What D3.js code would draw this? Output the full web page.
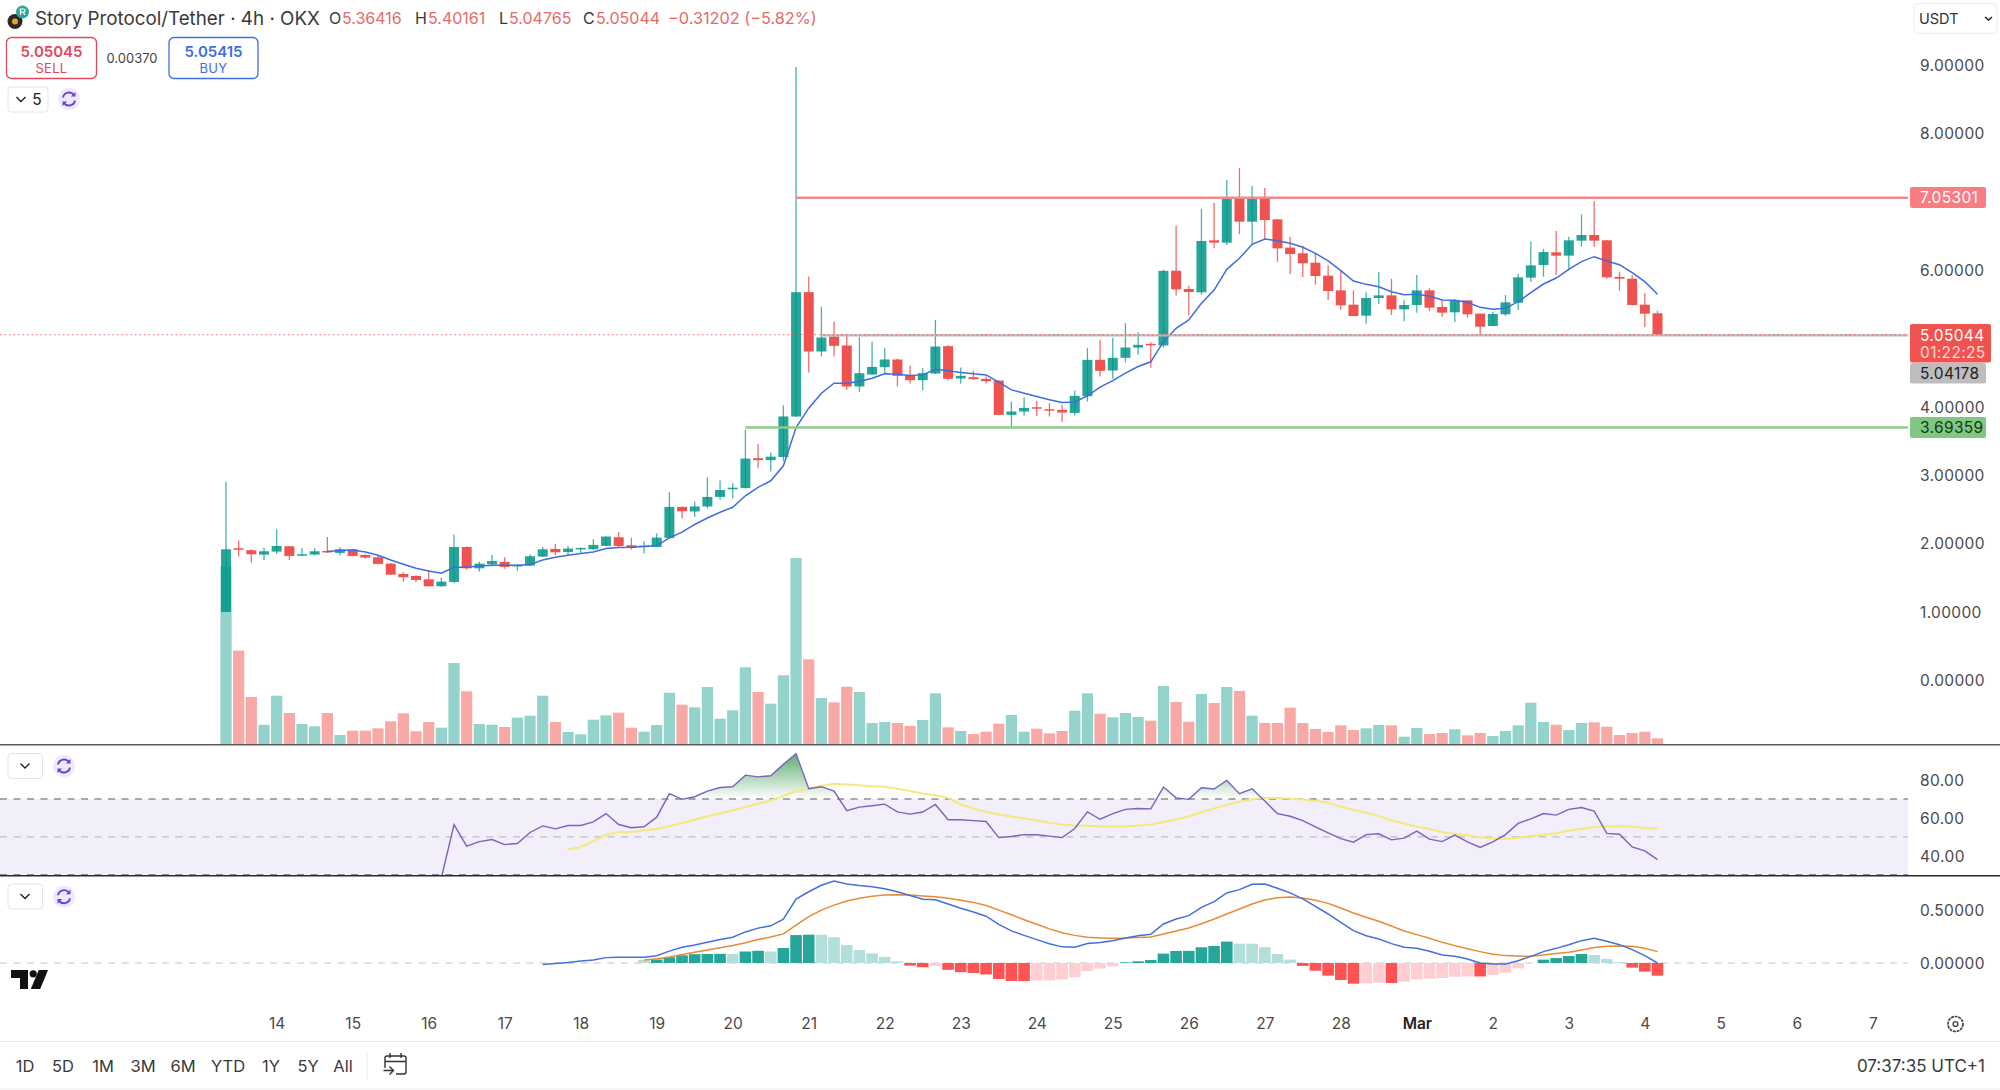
<!DOCTYPE html>
<html><head><meta charset="utf-8">
<script src="https://cdn.jsdelivr.net/npm/d3@7"></script>
<style>
html,body{margin:0;padding:0;background:#fff;overflow:hidden}
text{font-family:Inter,"Noto Sans",sans-serif}
.axis path,.axis line{display:none}
</style></head><body>
<div id="chart"></div>
<script>
const opens=[0.995,1.927,1.898,1.834,1.878,1.956,1.82,1.834,1.888,1.859,
1.912,1.829,1.795,1.702,1.551,1.522,1.473,1.371,1.434,1.946,
1.634,1.693,1.727,1.673,1.673,1.805,1.917,1.873,1.917,1.912,
1.961,2.088,1.971,1.951,1.946,2.078,2.532,2.465,2.538,2.678,
2.79,2.807,3.244,3.216,3.261,3.854,5.673,4.805,5.024,4.893,
4.293,4.468,4.576,4.688,4.454,4.385,4.483,4.883,4.41,4.429,
4.405,4.38,3.878,3.927,3.99,3.961,3.951,3.907,4.151,4.683,
4.527,4.712,4.863,4.917,4.893,5.987,5.719,5.67,6.431,6.397,
7.055,6.704,7.065,6.738,6.324,6.241,6.104,5.914,5.699,5.49,
5.329,5.587,5.626,5.422,5.485,5.699,5.456,5.378,5.553,5.358,
5.178,5.349,5.519,5.885,6.07,6.255,6.207,6.426,6.509,6.431,
5.895,5.87,5.49,5.36416];
const highs=[2.898,2.039,1.912,1.937,2.205,1.961,1.932,1.927,2.093,1.941,
1.917,1.839,1.829,1.712,1.576,1.532,1.61,1.498,2.127,1.951,
1.732,1.829,1.795,1.688,1.839,1.946,1.99,1.961,1.937,2.059,
2.102,2.166,2.083,2.029,2.146,2.746,2.537,2.611,2.964,2.919,
2.88,3.659,3.452,3.328,4.018,8.966,5.902,5.459,5.244,5.039,
5.015,4.946,4.854,4.702,4.595,4.561,5.268,4.898,4.571,4.522,
4.439,4.385,4.073,4.137,4.083,4.049,4.024,4.234,4.854,4.976,
5.005,5.22,5.088,4.941,6.0,6.646,5.768,6.889,6.982,7.314,
7.489,7.226,7.197,6.743,6.485,6.353,6.231,6.065,5.987,5.699,
5.67,5.968,5.87,5.553,5.924,5.729,5.558,5.568,5.558,5.363,
5.388,5.631,5.939,6.411,6.304,6.567,6.485,6.811,7.007,6.436,
5.973,5.924,5.656,5.40161];
const lows=[0.995,1.805,1.717,1.756,1.844,1.756,1.81,1.824,1.859,1.824,
1.805,1.776,1.693,1.537,1.439,1.434,1.366,1.366,1.415,1.61,
1.585,1.659,1.629,1.6,1.668,1.8,1.829,1.815,1.844,1.902,
1.956,1.937,1.907,1.854,1.941,2.073,2.361,2.387,2.51,2.638,
2.656,2.801,3.097,3.048,3.199,3.854,4.498,4.732,4.732,4.244,
4.215,4.463,4.488,4.293,4.337,4.239,4.478,4.38,4.332,4.39,
4.341,3.873,3.698,3.868,3.863,3.854,3.776,3.868,4.073,4.439,
4.405,4.644,4.756,4.566,4.863,5.622,5.339,5.636,6.314,6.363,
6.523,6.372,6.446,6.119,5.934,5.89,5.783,5.558,5.412,5.319,
5.202,5.5,5.339,5.246,5.373,5.397,5.314,5.236,5.3,5.046,
5.173,5.324,5.412,5.822,5.9,5.924,6.007,6.338,6.333,5.87,
5.695,5.48,5.163,5.04765];
const closes=[1.912,1.912,1.839,1.883,1.961,1.815,1.839,1.883,1.868,1.912,
1.815,1.79,1.698,1.541,1.502,1.463,1.371,1.439,1.946,1.634,
1.702,1.741,1.654,1.683,1.81,1.912,1.868,1.922,1.932,1.976,
2.098,1.961,1.932,1.966,2.083,2.532,2.468,2.538,2.678,2.779,
2.813,3.239,3.216,3.267,3.855,5.673,4.805,5.01,4.888,4.293,
4.488,4.58,4.688,4.449,4.385,4.488,4.878,4.405,4.449,4.4,
4.371,3.878,3.927,3.98,3.971,3.941,3.912,4.156,4.683,4.522,
4.712,4.863,4.902,4.898,5.985,5.714,5.675,6.421,6.397,7.055,
6.704,7.065,6.728,6.314,6.231,6.095,5.909,5.69,5.48,5.324,
5.587,5.626,5.422,5.485,5.699,5.446,5.373,5.553,5.349,5.168,
5.354,5.524,5.89,6.065,6.26,6.207,6.431,6.509,6.426,5.89,
5.87,5.485,5.358,5.05044];
const volumes=[177.7,93.3,47,19.3,48.3,31,20,17.7,31,9,
13.3,13.3,15.7,22.7,30.7,12.7,22,16.3,81,52.7,
20,19.3,17,26.3,28.3,48.3,22,12,9.7,24.3,
28.7,31.3,16.3,12.3,19,51.3,39.3,36.7,57,25.3,
33.7,76.7,52,40.3,68.7,186,84.7,46,41.7,57.3,
52,21,22,21,18,24,50.7,16.7,13,10,
12.3,20.3,29,12.3,15.3,10.7,13,33.3,50.7,30.3,
26.7,31,27,23.3,58,42,22.3,50,41,57,
53,28.3,21,21,36.3,21,15,12,18.7,14,
15.7,19,18.7,7.3,16,10,11,14.7,8.7,11,
8,13,18.7,41.3,22,19.3,14,21,21.7,17.3,
9,11,12.3,5.7];
const emaStart=8;
const emaValues=[1.878,1.893,1.902,1.873,1.824,1.756,1.693,1.634,1.595,1.561,
1.649,1.649,1.668,1.678,1.678,1.678,1.688,1.756,1.795,1.824,
1.849,1.873,1.922,1.937,1.941,1.951,1.966,2.079,2.163,2.275,
2.37,2.454,2.527,2.695,2.818,2.914,3.133,3.693,3.976,4.195,
4.341,4.341,4.366,4.415,4.478,4.473,4.454,4.463,4.546,4.522,
4.498,4.478,4.463,4.356,4.244,4.195,4.146,4.098,4.059,4.068,
4.156,4.283,4.38,4.488,4.585,4.654,4.949,5.144,5.266,5.51,
5.704,6.007,6.168,6.372,6.451,6.426,6.387,6.329,6.241,6.129,
5.987,5.836,5.787,5.753,5.68,5.636,5.641,5.617,5.558,5.553,
5.524,5.451,5.422,5.436,5.534,5.665,5.792,5.88,6.007,6.119,
6.192,6.129,6.075,5.958,5.826,5.641];
const rsiStart=17;
const rsiValues=[28.3,56.5,45.1,47.5,48.6,45.9,46.5,52.3,55.8,54.2,56,56,57.9,62.3,56.5,54.8,55.3,60.4,72.8,69.8,71.2,74.2,76.1,76.5,82.6,81.7,82.3,88.3,93.9,75.4,76.5,74.2,63.8,65.7,66.4,67.3,63.2,62,63.1,67.1,59,59,58.6,58.1,49.6,50.2,51.2,51.1,50.4,49.6,54.4,63.2,59.3,
62.3,64.5,65,64.8,76.3,70.6,69.8,75.9,75.3,79.8,72.8,75.4,68.9,62.3,60.9,58.6,55.3,52.1,49.1,47.2,51.2,51.6,48.4,49.3,53,48.8,47.5,50.9,47.4,44.4,47.4,51.2,57.1,59.5,62.3,61.5,64.5,65.5,63.6,51.8,51.4,44.7,42.6,38];
const rsiMaStart=27;
const rsiMaValues=[43.5,44.5,47.7,51.1,52.5,52.6,53.4,54.1,55.6,57.2,59,60.9,62.3,63.9,65.7,67.5,69.2,71.5,74.2,75.4,77,78,77.7,77.3,76.8,76.5,75.4,74.2,72.9,72,70.6,67.1,65,63.2,61.8,60.8,59.7,58.6,57.4,56.5,56,55.8,55.6,55.5,55.6,56,56.5,57.8,59.2,60.9,63.1,65,66.9,68.5,69.9,70.5,70.5,70.3,69.8,69,68.2,65.9,64.3,62.7,61.1,58.8,57.1,55.5,54.1,52.5,51.6,50.9,49.8,49.1,48.9,49.5,50.4,51.1,51.9,53.2,54.2,55.1,55.5,55.6,55.3,54.6,54.4];
const macdStart=25;
const macdValues=[-0.015,-0.004,0.004,0.018,0.029,0.051,0.055,0.055,0.055,0.069,0.113,0.149,0.171,0.196,0.222,0.244,0.295,0.331,0.353,0.415,0.607,0.676,0.738,0.778,0.749,0.735,0.724,0.705,0.676,0.64,0.604,0.6,0.56,0.52,0.484,0.444,0.367,0.305,0.262,0.222,0.182,0.153,0.149,0.185,0.195,
0.212,0.237,0.259,0.272,0.37,0.418,0.449,0.528,0.582,0.665,0.696,0.747,0.75,0.709,0.665,0.608,0.538,0.465,0.386,0.307,0.259,0.228,0.184,0.149,0.139,0.111,0.076,0.063,0.038,0,-0.009,-0.009,0.022,0.063,0.108,0.139,0.174,0.212,0.234,0.206,0.174,0.127,0.07,0];
const signalStart=33;
const signalValues=[0.029,0.04,0.058,0.08,0.102,0.124,0.145,0.167,0.193,0.222,0.247,0.276,0.36,0.44,0.502,0.549,0.589,0.615,0.633,0.644,0.647,0.644,0.636,0.629,0.615,0.596,0.575,0.545,0.502,0.458,0.411,0.367,0.324,0.287,0.262,0.244,0.238,
0.234,0.237,0.243,0.247,0.275,0.304,0.332,0.373,0.418,0.465,0.513,0.56,0.598,0.62,0.627,0.617,0.595,0.566,0.522,0.475,0.434,0.396,0.351,0.304,0.269,0.234,0.196,0.165,0.136,0.108,0.082,0.07,0.066,0.063,0.076,0.089,0.101,0.123,0.146,0.158,0.161,0.158,0.139,0.108];
const histStart=33;
const histValues=[0.029,0.033,0.055,0.073,0.084,0.085,0.087,0.085,0.109,0.116,0.109,0.142,0.265,0.269,0.268,0.244,0.171,0.124,0.091,0.058,0.015,-0.025,-0.04,-0.029,-0.065,-0.087,-0.095,-0.109,-0.153,-0.171,-0.172,-0.167,-0.164,-0.156,-0.135,-0.076,-0.052,
-0.032,0.006,0.016,0.028,0.089,0.114,0.115,0.149,0.161,0.203,0.184,0.183,0.149,0.085,0.032,-0.028,-0.073,-0.12,-0.161,-0.196,-0.193,-0.187,-0.19,-0.177,-0.155,-0.149,-0.142,-0.13,-0.127,-0.128,-0.114,-0.092,-0.051,0,0.032,0.047,0.066,0.085,0.076,0.038,0.009,-0.044,-0.082,-0.12];
const priceTicks=[9,8,6,4,3,2,1,0];
const rsiTicks=[80,60,40];
const macdTicks=[0.5,0];
const rsiLevels=[70,50,30];
const dateTickLabels=["14","15","16","17","18","19","20","21","22","23","24","25","26","27","28","Mar","2","3","4","5","6","7"];
const dateTickFirstIndex=4, barsPerDay=6;
const rangeButtons=["1D","5D","1M","3M","6M","YTD","1Y","5Y","All"];
const resistance=7.05301, resistanceStart=45;
const support=3.69359, supportStart=41;
const grayLevel=5.04178, grayStart=47;
const lastPrice=5.05044;
const labelRedLevel="7.05301", labelGray="5.04178", labelGreen="3.69359", labelLast="5.05044", labelTimer="01:22:25";

const W=2000,H=1090,plotRight=1908;
const x=d3.scaleLinear().domain([0,113]).range([226,1657.5]);
const y=d3.scaleLinear().domain([0,9]).range([680,64.7]);
const yVol=d3.scaleLinear().domain([0,200]).range([744,544]);
const yRsi=d3.scaleLinear().domain([30,70]).range([874.7,799]);
const yMacd=d3.scaleLinear().domain([0,0.5]).range([963,910.3]);
const G="#26a69a",R="#ef5350",INK="#4a4a4a";
const svg=d3.select("#chart").append("svg").attr("width",W).attr("height",H).style("display","block");
const defs=svg.append("defs");
defs.append("clipPath").attr("id","rsiClip").append("rect").attr("x",0).attr("y",746).attr("width",plotRight).attr("height",129);
defs.append("clipPath").attr("id","obClip").append("rect").attr("x",0).attr("y",746).attr("width",plotRight).attr("height",yRsi(70)-746);
const gr=defs.append("linearGradient").attr("id","obGrad").attr("gradientUnits","userSpaceOnUse").attr("x1",0).attr("x2",0).attr("y1",yRsi(94)).attr("y2",yRsi(70));
gr.append("stop").attr("offset",0).attr("stop-color","#3f9d55").attr("stop-opacity",0.85);
gr.append("stop").attr("offset",1).attr("stop-color","#3f9d55").attr("stop-opacity",0);

const idx=d3.range(opens.length);
// volume
svg.append("g").selectAll("rect").data(volumes).join("rect")
 .attr("x",(d,i)=>x(i)-5.6).attr("width",11.2)
 .attr("y",d=>yVol(d)).attr("height",d=>744-yVol(d))
 .attr("fill",(d,i)=>closes[i]>=opens[i]?"#93d3cc":"#f8a9a6");
// candles (green drawn translucent so the volume behind reads faintly darker)
const main=svg.append("g");
main.selectAll("line.w").data(idx).join("line").attr("class","w")
 .attr("x1",i=>x(i)).attr("x2",i=>x(i)).attr("y1",i=>y(highs[i])).attr("y2",i=>y(lows[i]))
 .attr("stroke",i=>closes[i]>=opens[i]?G:R).attr("stroke-width",1.3).attr("stroke-opacity",0.85);
main.selectAll("rect.b").data(idx).join("rect").attr("class","b")
 .attr("x",i=>x(i)-5).attr("width",10)
 .attr("y",i=>y(Math.max(opens[i],closes[i])))
 .attr("height",i=>Math.max(1.5,Math.abs(y(opens[i])-y(closes[i]))))
 .attr("fill",i=>closes[i]>=opens[i]?"#009688":R)
 .attr("fill-opacity",i=>closes[i]>=opens[i]?0.85:1);
// EMA
const seriesLine=(scale,start)=>d3.line().x((d,i)=>x(i+start)).y(d=>scale(d));
svg.append("path").attr("d",seriesLine(y,emaStart)(emaValues)).attr("fill","none").attr("stroke","#3f6cde").attr("stroke-width",1.5);
// horizontal levels
const lvl=(p,s,c,w)=>svg.append("line").attr("x1",x(s)).attr("x2",plotRight).attr("y1",y(p)).attr("y2",y(p)).attr("stroke",c).attr("stroke-width",w);
lvl(resistance,resistanceStart,"#f28a8d",2.4);
lvl(support,supportStart,"#8ccb8e",2.4);
lvl(grayLevel,grayStart,"#bdb7b7",2.2);
svg.append("line").attr("x1",0).attr("x2",plotRight).attr("y1",y(lastPrice)).attr("y2",y(lastPrice)).attr("stroke","#ef5350").attr("stroke-width",1).attr("stroke-dasharray","1.5 3").attr("stroke-opacity",.9);
// dividers
svg.append("line").attr("x1",0).attr("x2",W).attr("y1",744.8).attr("y2",744.8).attr("stroke","#5c5c5c").attr("stroke-width",1.5);
// RSI pane
svg.append("rect").attr("x",0).attr("width",plotRight).attr("y",yRsi(70)).attr("height",yRsi(30)-yRsi(70)).attr("fill","#f2eefa");
svg.append("g").selectAll("line").data(rsiLevels).join("line")
 .attr("x1",0).attr("x2",plotRight).attr("y1",d=>yRsi(d)).attr("y2",d=>yRsi(d))
 .attr("stroke",d=>d===50?"#c0bdc4":"#8f8d93").attr("stroke-width",1.3).attr("stroke-dasharray","7 6.5");
svg.append("path").attr("clip-path","url(#obClip)")
 .attr("d",d3.area().x((d,i)=>x(i+rsiStart)).y0(yRsi(70)).y1(d=>yRsi(d))(rsiValues))
 .attr("fill","url(#obGrad)");
const rsiG=svg.append("g").attr("clip-path","url(#rsiClip)");
rsiG.append("path").attr("d",seriesLine(yRsi,rsiMaStart)(rsiMaValues)).attr("fill","none").attr("stroke","#f6e87a").attr("stroke-width",2);
rsiG.append("path").attr("d",seriesLine(yRsi,rsiStart)(rsiValues)).attr("fill","none").attr("stroke","#7b62ba").attr("stroke-width",1.4);
svg.append("line").attr("x1",0).attr("x2",W).attr("y1",875.7).attr("y2",875.7).attr("stroke","#2a2a2a").attr("stroke-width",1.5);
// MACD pane
svg.append("line").attr("x1",0).attr("x2",plotRight).attr("y1",yMacd(0)).attr("y2",yMacd(0)).attr("stroke","#c4c4c4").attr("stroke-width",1.2).attr("stroke-dasharray","7 6.5");
svg.append("g").selectAll("rect").data(histValues).join("rect")
 .attr("x",(d,i)=>x(i+histStart)-5.8).attr("width",11.6)
 .attr("y",d=>Math.min(yMacd(d),yMacd(0))).attr("height",d=>Math.abs(yMacd(d)-yMacd(0)))
 .attr("fill",(d,i)=>{const p=histValues[i-1];if(p===undefined)return "#b2dfdb";
   if(d>=0)return d>=p?G:"#b2dfdb";return d<p?"#ff5252":"#ffcdd2";});
svg.append("path").attr("d",seriesLine(yMacd,signalStart)(signalValues)).attr("fill","none").attr("stroke","#e98a33").attr("stroke-width",1.5);
svg.append("path").attr("d",seriesLine(yMacd,macdStart)(macdValues)).attr("fill","none").attr("stroke","#4470dc").attr("stroke-width",1.5);

// axes
const fmtAxis=(g,c)=>g.attr("class","axis").call(s=>s.selectAll("text").attr("font-size",15.5).attr("fill",c).attr("letter-spacing",.35));
const ax=d3.axisRight(y).tickValues(priceTicks).tickSize(0).tickPadding(0).tickFormat(d3.format(".5f"));
svg.append("g").attr("transform","translate(1920,0.5)").call(ax).call(fmtAxis,INK);
svg.append("g").attr("transform","translate(1920,0.5)").call(d3.axisRight(yRsi).tickValues(rsiTicks).tickSize(0).tickPadding(0).tickFormat(d3.format(".2f"))).call(fmtAxis,INK);
svg.append("g").attr("transform","translate(1920,0.5)").call(d3.axisRight(yMacd).tickValues(macdTicks).tickSize(0).tickPadding(0).tickFormat(d3.format(".5f"))).call(fmtAxis,INK);
const xt=d3.range(dateTickLabels.length).map(k=>dateTickFirstIndex+k*barsPerDay);
svg.append("g").attr("transform","translate(0,1024)").call(d3.axisBottom(x).tickValues(xt).tickSize(0).tickPadding(0).tickFormat((d,k)=>dateTickLabels[k]))
 .attr("class","axis").call(s=>s.selectAll("text").attr("dy","0.35em").attr("y",0).attr("font-size",15.5).attr("fill",d=>d===dateTickFirstIndex+15*barsPerDay?"#222":INK).attr("font-weight",d=>d===dateTickFirstIndex+15*barsPerDay?600:400));

// price labels
const tag=(y0,h,w,fill,lines,col)=>{svg.append("rect").attr("x",1910).attr("y",y0).attr("width",w).attr("height",h).attr("rx",2).attr("fill",fill);
 lines.forEach((l,k)=>svg.append("text").attr("x",1920).attr("y",y0+(k+.5)*(h/lines.length)+(lines.length>1&&k===0?1.5:0)).attr("dy",".35em").attr("font-size",15.5).attr("letter-spacing",.35).attr("fill",col[k]).text(l));};
tag(187,21,76,"#f97c82",[labelRedLevel],["#fff"]);
tag(324,38.5,81,"#ef5350",[labelLast,labelTimer],["#fff","#ffd6d4"]);
tag(363,20.5,76,"#bdbdbd",[labelGray],["#222"]);
tag(417,21,76,"#81c784",[labelGreen],["#143a16"]);

// header
const txt=(xx,yy,s,o={})=>svg.append("text").attr("x",xx).attr("y",yy).attr("dy",".35em").attr("font-size",o.size||16).attr("fill",o.fill||"#333").attr("font-weight",o.weight||400).attr("text-anchor",o.anchor||"start").attr("letter-spacing",o.ls||0).text(s);
svg.append("circle").attr("cx",15).attr("cy",21.5).attr("r",7.5).attr("fill","#2d2a26");
svg.append("circle").attr("cx",15).attr("cy",21.5).attr("r",3).attr("fill","#f0a030");
svg.append("circle").attr("cx",22.5).attr("cy",12).attr("r",6.5).attr("fill","#2aa79b");
svg.append("path").attr("d","M20.5 15V9h3a1.6 1.6 0 0 1 0 3.2h-3M23 12.2l2 2.8").attr("fill","none").attr("stroke","#fff").attr("stroke-width",1.2);
txt(35,18.5,"Story Protocol/Tether · 4h · OKX",{size:18.8,fill:"#3a3a3a"});
const rc="#e46a6a";
const ohlc=[["O","5.36416",329],["H","5.40161",415],["L","5.04765",499],["C","5.05044",583]];
ohlc.forEach(([k,v,xx])=>{txt(xx,18.5,k,{size:16,fill:"#3a3a3a"});txt(xx+(k==="L"?10:13),18.5,v,{size:16,fill:rc});});
txt(668,18.5,"−0.31202 (−5.82%)",{size:16.3,fill:rc});
const box=(x0,w,c,a,b)=>{svg.append("rect").attr("x",x0).attr("y",37.5).attr("width",w).attr("height",41).attr("rx",5).attr("fill","#fff").attr("stroke",c).attr("stroke-width",1.3);
 txt(x0+w/2,51.5,a,{size:15,fill:c,anchor:"middle",weight:600});txt(x0+w/2,68.5,b,{size:13,fill:c,anchor:"middle",ls:.3});};
box(6.5,90,"#e0475a","5.05045","SELL");
box(169,89,"#3f6fdc","5.05415","BUY");
txt(132,58,"0.00370",{size:13,fill:"#444",anchor:"middle"});

const chevBox=(x0,y0,w,h,cx)=>{svg.append("rect").attr("x",x0).attr("y",y0).attr("width",w).attr("height",h).attr("rx",3.5).attr("fill","#fff").attr("stroke","#e4e4e4");
 svg.append("path").attr("d",`M${cx-4.5} ${y0+h/2-2.5}l4.5 4.5l4.5 -4.5`).attr("fill","none").attr("stroke","#222").attr("stroke-width",1.4);};
const refresh=(cx,cy)=>{svg.append("circle").attr("cx",cx).attr("cy",cy).attr("r",11).attr("fill","#efe9fb");
 svg.append("path").attr("d",`M${cx-6} ${cy-1.5}a6.2 6.2 0 0 1 11 -2.6M${cx+6} ${cy+1.5}a6.2 6.2 0 0 1 -11 2.6`).attr("fill","none").attr("stroke","#6a3fe0").attr("stroke-width",1.9);
 svg.append("path").attr("d",`M${cx+6.5} ${cy-7}v4.6h-4.6zM${cx-6.5} ${cy+7}v-4.6h4.6z`).attr("fill","#6a3fe0");};
chevBox(8,87,40,25,21); txt(37,99.5,"5",{size:15.5,fill:"#222",anchor:"middle"}); refresh(69,99);
chevBox(8,753.5,34.5,25,25); refresh(64,766);
chevBox(8,884,34.5,25,25); refresh(64,896.7);

// USDT selector
svg.append("rect").attr("x",1914).attr("y",3.5).attr("width",83).attr("height",30).attr("rx",4).attr("fill","#fff").attr("stroke","#eeeeee");
txt(1919,19,"USDT",{size:14.5,fill:"#333"});
svg.append("path").attr("d","M1985 17l3.5 3l3.5 -3").attr("fill","none").attr("stroke","#222").attr("stroke-width",1.6);

// TV logo
const logo=svg.append("g").attr("fill","#111");
logo.append("path").attr("d","M11 970H28V989H20V978H11Z");
logo.append("circle").attr("cx",33.2).attr("cy",973.8).attr("r",3.6);
logo.append("path").attr("d","M38.8 970H48L40.2 989H30.8Z");

// gear
svg.append("circle").attr("cx",1955.5).attr("cy",1024).attr("r",7.5).attr("fill","none").attr("stroke","#444").attr("stroke-width",1.7).attr("stroke-dasharray","3 0.8");
svg.append("circle").attr("cx",1955.5).attr("cy",1024).attr("r",2.4).attr("fill","none").attr("stroke","#444").attr("stroke-width",1.4);

// toolbar
svg.append("line").attr("x1",0).attr("x2",W).attr("y1",1041.5).attr("y2",1041.5).attr("stroke","#ececec").attr("stroke-width",1.2);
svg.append("line").attr("x1",0).attr("x2",W).attr("y1",1089).attr("y2",1089).attr("stroke","#ececec").attr("stroke-width",1.2);
const btnCenters=d3.scaleOrdinal().domain(rangeButtons).range([25,63,103,143,183,228,271,308,343]);
rangeButtons.forEach(b=>txt(btnCenters(b),1066,b,{size:16.5,fill:"#3a3a3a",anchor:"middle"}));
svg.append("line").attr("x1",367).attr("x2",367).attr("y1",1052).attr("y2",1080).attr("stroke","#ececec");
svg.append("path").attr("d","M385 1068V1058a2 2 0 0 1 2 -2H404a2 2 0 0 1 2 2V1072a2 2 0 0 1 -2 2H396M385 1061.5H406M390 1053v5M401 1053v5M383.5 1070.5H393M389.5 1066.5l4 4l-4 4").attr("fill","none").attr("stroke","#333").attr("stroke-width",1.4);
txt(1985,1066,"07:37:35 UTC+1",{size:17,fill:"#3a3a3a",anchor:"end"});
</script></body></html>
